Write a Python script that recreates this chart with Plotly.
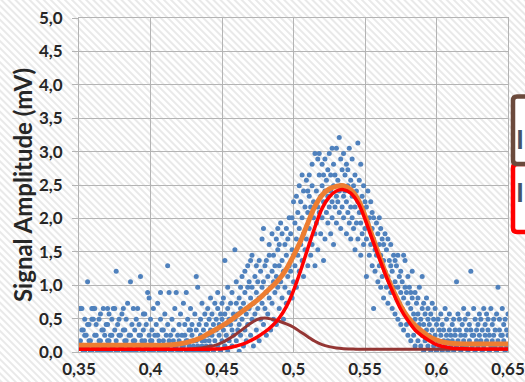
import base64
import plotly.graph_objects as go

# ---------------- data ----------------
# scatter samples: one entry per x step of 0.001 starting at 0.350,
# each entry lists the ADC codes observed at that x (1 code = 0.08 mV, offset 0.01 mV)
SCATTER_X0 = 0.350
SCATTER_DX = 0.001
CODE_MV = 0.08
CODE_OFFSET = 0.01

codes_bg = [  # 0.350 - 0.439
    [1, 8], [2, 8], [1, 4, 8], [0, 4], [0, 3, 6], [1, 3], [1, 5, 13], [2, 5], [0, 2], [0, 6, 8],
    [1, 6, 8], [3, 8], [3, 5], [0, 1], [2, 6], [2, 7], [0, 4], [1, 4, 8], [1, 3], [0, 5],
    [2, 5, 8], [2, 7], [0, 3], [1, 3, 6], [1, 8], [4, 8], [0, 2, 15], [0, 5], [3, 6], [1, 3],
    [1, 7], [0, 4, 8], [2, 4], [2, 6], [0, 9], [1, 3], [1, 3, 13], [0, 5], [2, 8], [2, 4],
    [0, 6], [1, 8], [1, 3, 5], [3, 14], [0, 2], [0, 4, 7], [2, 7], [1, 5], [1, 11], [0, 3, 10],
    [2, 6], [2, 4], [0, 8], [1, 3], [1, 5], [3, 9], [0, 2], [0, 6, 11], [1, 4], [2, 4],
    [0, 7], [1, 3], [1, 5, 16], [2, 11], [0, 3], [0, 6], [2, 4], [1, 8], [1, 11], [0, 3],
    [2, 5], [0, 7], [1, 3], [1, 9], [3, 5], [0, 2, 11], [2, 6], [1, 4], [0, 4, 8], [3, 5],
    [1, 2], [0, 7], [2, 4, 14], [1, 12], [0, 5], [3, 6], [1, 2, 9], [0, 4], [2, 7], [1, 5],
]
codes_rise = [  # 0.440 - 0.500
    [0, 3, 8], [2, 6], [1, 4, 10], [3, 7], [0, 5], [2, 9], [4, 6], [1, 8, 11], [3, 5], [0, 7],
    [2, 6, 9], [4, 10], [1, 7, 17], [3, 5], [0, 8, 12], [2, 6], [5, 9], [1, 4, 11], [3, 7], [6, 19],
    [2, 9, 13], [4, 7], [0, 5, 10], [3, 8, 12], [6, 14], [1, 9], [4, 11, 15], [2, 7], [5, 12, 16], [8, 13],
    [3, 10, 17], [6, 12, 18], [1, 9], [7, 14], [4, 11, 16], [8, 13], [2, 10, 17], [6, 15], [9, 12, 21], [5, 13, 23],
    [8, 16], [3, 11, 17], [7, 14], [10, 18, 20], [4, 12], [9, 15, 22], [6, 13, 18], [11, 16], [5, 14, 21], [12, 19, 23],
    [8, 16, 20], [13, 24], [10, 17, 22], [6, 15], [12, 20], [9, 18, 23], [14, 21], [11, 16, 25], [15, 22], [10, 19, 25],
    [13, 18, 28],
]
codes_peak = [  # 0.501 - 0.575
    [16, 24], [12, 21, 29], [18, 26], [15, 23, 31], [20, 28], [17, 25, 33], [14, 22, 30], [19, 27], [21, 32], [16, 26, 30],
    [23, 29, 33], [18, 27], [20, 31, 35], [25, 28], [16, 22, 37], [24, 30], [19, 27, 36], [26, 33, 37], [22, 29], [25, 31, 35],
    [17, 28, 33], [21, 30, 36], [26, 32], [24, 29, 34], [27, 37], [22, 30, 33], [25, 28, 38], [20, 31, 35], [27, 33], [24, 29, 38],
    [28, 32], [26, 30, 40], [23, 31, 36], [27, 34], [25, 29, 37], [30, 33], [22, 28, 35], [26, 31, 34], [24, 30, 38], [21, 27, 32],
    [25, 29, 36], [23, 31], [19, 27, 33], [24, 30], [21, 28, 39], [26, 32], [18, 24, 35], [22, 29], [20, 26, 31], [23, 28],
    [14, 21, 27], [24, 30], [18, 25], [20, 28], [16, 23, 26], [8, 21, 25], [15, 19], [18, 24], [13, 22], [16, 20, 25],
    [12, 18, 23], [14, 21], [10, 17, 20], [15, 22], [12, 19], [9, 14, 21], [13, 17], [11, 16, 20], [8, 15], [12, 18],
    [7, 13, 17], [10, 16], [6, 12, 18], [9, 14], [5, 11, 15],
]
codes_fall = [  # 0.576 - 0.600
    [8, 13], [4, 10, 18], [7, 12, 17], [5, 11], [3, 9, 14], [6, 12], [2, 8, 11], [5, 10, 15], [3, 7], [1, 6, 11],
    [4, 9], [2, 7, 10], [5, 12], [1, 6], [3, 8, 14], [0, 5, 9], [2, 7], [4, 10], [1, 6, 8], [3, 5],
    [0, 7], [2, 4, 9], [1, 6], [3, 8], [0, 5],
]
codes_tail = [  # 0.601 - 0.650
    [2, 6], [1, 4], [3, 7], [0, 5], [2, 4], [1, 8], [3, 6], [0, 2], [4, 7], [1, 3],
    [2, 5], [0, 6], [3, 4], [1, 13], [2, 7], [4, 6], [0, 3], [1, 5], [2, 8], [3, 6],
    [1, 4], [0, 7], [2, 5], [4, 15], [1, 3], [3, 8], [0, 6], [2, 4], [1, 5], [3, 7],
    [2, 6], [0, 4], [1, 8], [3, 5], [2, 7], [4, 6], [0, 3], [1, 8], [2, 5], [3, 6],
    [1, 4], [0, 7], [2, 12], [4, 6], [1, 3], [3, 8], [2, 5], [0, 6], [1, 4], [3, 7],
]

# fitted curves
curve_x = [0.35, 0.36, 0.37, 0.38, 0.39, 0.40, 0.41, 0.42, 0.43, 0.435, 0.44, 0.445, 0.45, 0.455, 0.46, 0.465,
           0.47, 0.475, 0.48, 0.485, 0.49, 0.495, 0.50, 0.505, 0.51, 0.515, 0.52, 0.525, 0.53, 0.535, 0.54,
           0.545, 0.55, 0.555, 0.56, 0.565, 0.57, 0.575, 0.58, 0.585, 0.59, 0.595, 0.60, 0.605, 0.61, 0.62,
           0.63, 0.64, 0.65]
peak_small = [0.04, 0.04, 0.04, 0.04, 0.04, 0.04, 0.04, 0.04, 0.05, 0.06, 0.08, 0.10, 0.14, 0.20, 0.27, 0.35,
              0.43, 0.49, 0.51, 0.49, 0.46, 0.42, 0.37, 0.30, 0.23, 0.16, 0.11, 0.08, 0.06, 0.05, 0.045,
              0.04, 0.04, 0.04, 0.04, 0.04, 0.04, 0.04, 0.04, 0.04, 0.04, 0.04, 0.04, 0.04, 0.04, 0.04,
              0.04, 0.04, 0.04]
peak_main = [0.04, 0.04, 0.04, 0.04, 0.04, 0.04, 0.04, 0.04, 0.04, 0.04, 0.04, 0.045, 0.05, 0.065, 0.09, 0.12,
             0.17, 0.23, 0.30, 0.39, 0.51, 0.68, 0.92, 1.22, 1.55, 1.87, 2.15, 2.32, 2.41, 2.43, 2.38,
             2.24, 1.99, 1.69, 1.40, 1.12, 0.87, 0.64, 0.47, 0.33, 0.24, 0.17, 0.11, 0.08, 0.06, 0.05,
             0.045, 0.045, 0.045]
fit_sum = [0.10, 0.10, 0.10, 0.10, 0.10, 0.10, 0.10, 0.12, 0.17, 0.21, 0.27, 0.33, 0.39, 0.46, 0.54, 0.62,
           0.70, 0.78, 0.88, 0.98, 1.09, 1.24, 1.44, 1.66, 1.93, 2.18, 2.35, 2.44, 2.48, 2.49, 2.43,
           2.29, 2.04, 1.74, 1.44, 1.15, 0.91, 0.69, 0.52, 0.40, 0.31, 0.23, 0.18, 0.145, 0.13, 0.12,
           0.12, 0.12, 0.12]

x_ticks = [0.35, 0.40, 0.45, 0.50, 0.55, 0.60, 0.65]
x_tick_text = ["0,35", "0,4", "0,45", "0,5", "0,55", "0,6", "0,65"]
y_ticks = [0.0, 0.5, 1.0, 1.5, 2.0, 2.5, 3.0, 3.5, 4.0, 4.5, 5.0]
y_tick_text = ["0,0", "0,5", "1,0", "1,5", "2,0", "2,5", "3,0", "3,5", "4,0", "4,5", "5,0"]
y_title = "Signal Amplitude (mV)"
legend_labels = ["I", "I"]  # only the first stroke of each legend entry is inside the picture

# ---------------- build ----------------
W, H = 525, 382
ML, MR, MT, MB = 79, 17, 18, 30
PW, PH = W - ML - MR, H - MT - MB

all_codes = codes_bg + codes_rise + codes_peak + codes_fall + codes_tail
sx, sy = [], []
for i, col in enumerate(all_codes):
    for c in col:
        sx.append(round(SCATTER_X0 + i * SCATTER_DX, 3))
        sy.append(CODE_OFFSET + CODE_MV * c)

fig = go.Figure()
fig.add_trace(go.Scatter(x=sx, y=sy, mode="markers",
                         marker=dict(size=5, color="#4F81BD"), hoverinfo="skip"))
fig.add_trace(go.Scatter(x=curve_x, y=peak_small, mode="lines", line_shape="spline",
                         line=dict(color="#943634", width=3), hoverinfo="skip"))
fig.add_trace(go.Scatter(x=curve_x, y=fit_sum, mode="lines", line_shape="spline",
                         line=dict(color="#ED7D31", width=5), hoverinfo="skip"))
fig.add_trace(go.Scatter(x=curve_x, y=peak_main, mode="lines", line_shape="spline",
                         line=dict(color="#FF0000", width=3.5), hoverinfo="skip"))

# hatched background
svg = (f"<svg xmlns='http://www.w3.org/2000/svg' width='{W}' height='{H}'>"
       "<defs><pattern id='p' width='5' height='5' patternUnits='userSpaceOnUse' "
       "patternTransform='rotate(-45)'><rect width='2' height='5' fill='#e9e9e9'/></pattern></defs>"
       "<rect width='100%' height='100%' fill='#ffffff'/>"
       "<rect width='100%' height='100%' fill='url(#p)'/></svg>")
src = "data:image/svg+xml;base64," + base64.b64encode(svg.encode()).decode()


def px(xpix):
    return (xpix - ML) / PW


def py(ypix):
    return 1 - (ypix - MT) / PH


def rounded_rect(x0p, y0p, x1p, y1p, r=4):
    pts = [
        f"M{px(x0p + r)},{py(y0p)}",
        f"L{px(x1p)},{py(y0p)}",
        f"L{px(x1p)},{py(y1p)}",
        f"L{px(x0p + r)},{py(y1p)}",
        f"Q{px(x0p)},{py(y1p)} {px(x0p)},{py(y1p - r)}",
        f"L{px(x0p)},{py(y0p + r)}",
        f"Q{px(x0p)},{py(y0p)} {px(x0p + r)},{py(y0p)}",
        "Z",
    ]
    return " ".join(pts)


shapes = [
    dict(type="path", xref="paper", yref="paper", path=rounded_rect(513, 164, 600, 232),
         line=dict(color="#FF0000", width=4.5), fillcolor="white", layer="above"),
    dict(type="path", xref="paper", yref="paper", path=rounded_rect(513, 96.5, 600, 164),
         line=dict(color="#6B4A3C", width=4.5), fillcolor="white", layer="above"),
]

annotations = [
    dict(text=f"<b>{y_title}</b>", xref="paper", yref="paper", x=px(22), y=py(185),
         textangle=-90, showarrow=False, xanchor="center", yanchor="middle",
         font=dict(family="Lato", size=24, color="#262626")),
    dict(text=f"<b>{legend_labels[0]}</b>", xref="paper", yref="paper", x=px(525), y=py(138),
         showarrow=False, xanchor="right", yanchor="middle", borderpad=0,
         font=dict(family="Lato", size=27, color="#44546A")),
    dict(text=f"<b>{legend_labels[1]}</b>", xref="paper", yref="paper", x=px(525), y=py(191),
         showarrow=False, xanchor="right", yanchor="middle", borderpad=0,
         font=dict(family="Lato", size=27, color="#44546A")),
]

fig.update_layout(
    width=W, height=H,
    margin=dict(l=ML, r=MR, t=MT, b=MB, pad=0, autoexpand=False),
    paper_bgcolor="white", plot_bgcolor="rgba(0,0,0,0)",
    showlegend=False, hovermode=False,
    images=[dict(source=src, xref="paper", yref="paper", x=px(0), y=py(0),
                 sizex=W / PW, sizey=H / PH, xanchor="left", yanchor="top",
                 sizing="stretch", layer="below")],
    shapes=shapes, annotations=annotations,
    font=dict(family="Lato", color="#262626"),
)
fig.update_xaxes(range=[0.35, 0.65], tickvals=x_ticks, ticktext=x_tick_text,
                 showgrid=True, gridcolor="#B4B4B4", gridwidth=1, zeroline=False,
                 showline=True, linecolor="#B4B4B4", mirror=True, ticks="",
                 ticklabelstandoff=2, automargin=False,
                 tickfont=dict(family="Lato", size=17, color="#262626", weight="bold"))
fig.update_yaxes(range=[0, 5], tickvals=y_ticks, ticktext=y_tick_text,
                 showgrid=True, gridcolor="#B4B4B4", gridwidth=1, zeroline=False,
                 showline=True, linecolor="#B4B4B4", mirror=True,
                 ticks="outside", ticklen=6, tickcolor="#B4B4B4",
                 ticklabelstandoff=6, automargin=False,
                 tickfont=dict(family="Lato", size=17, color="#262626", weight="bold"))

fig.write_html("out.html")
